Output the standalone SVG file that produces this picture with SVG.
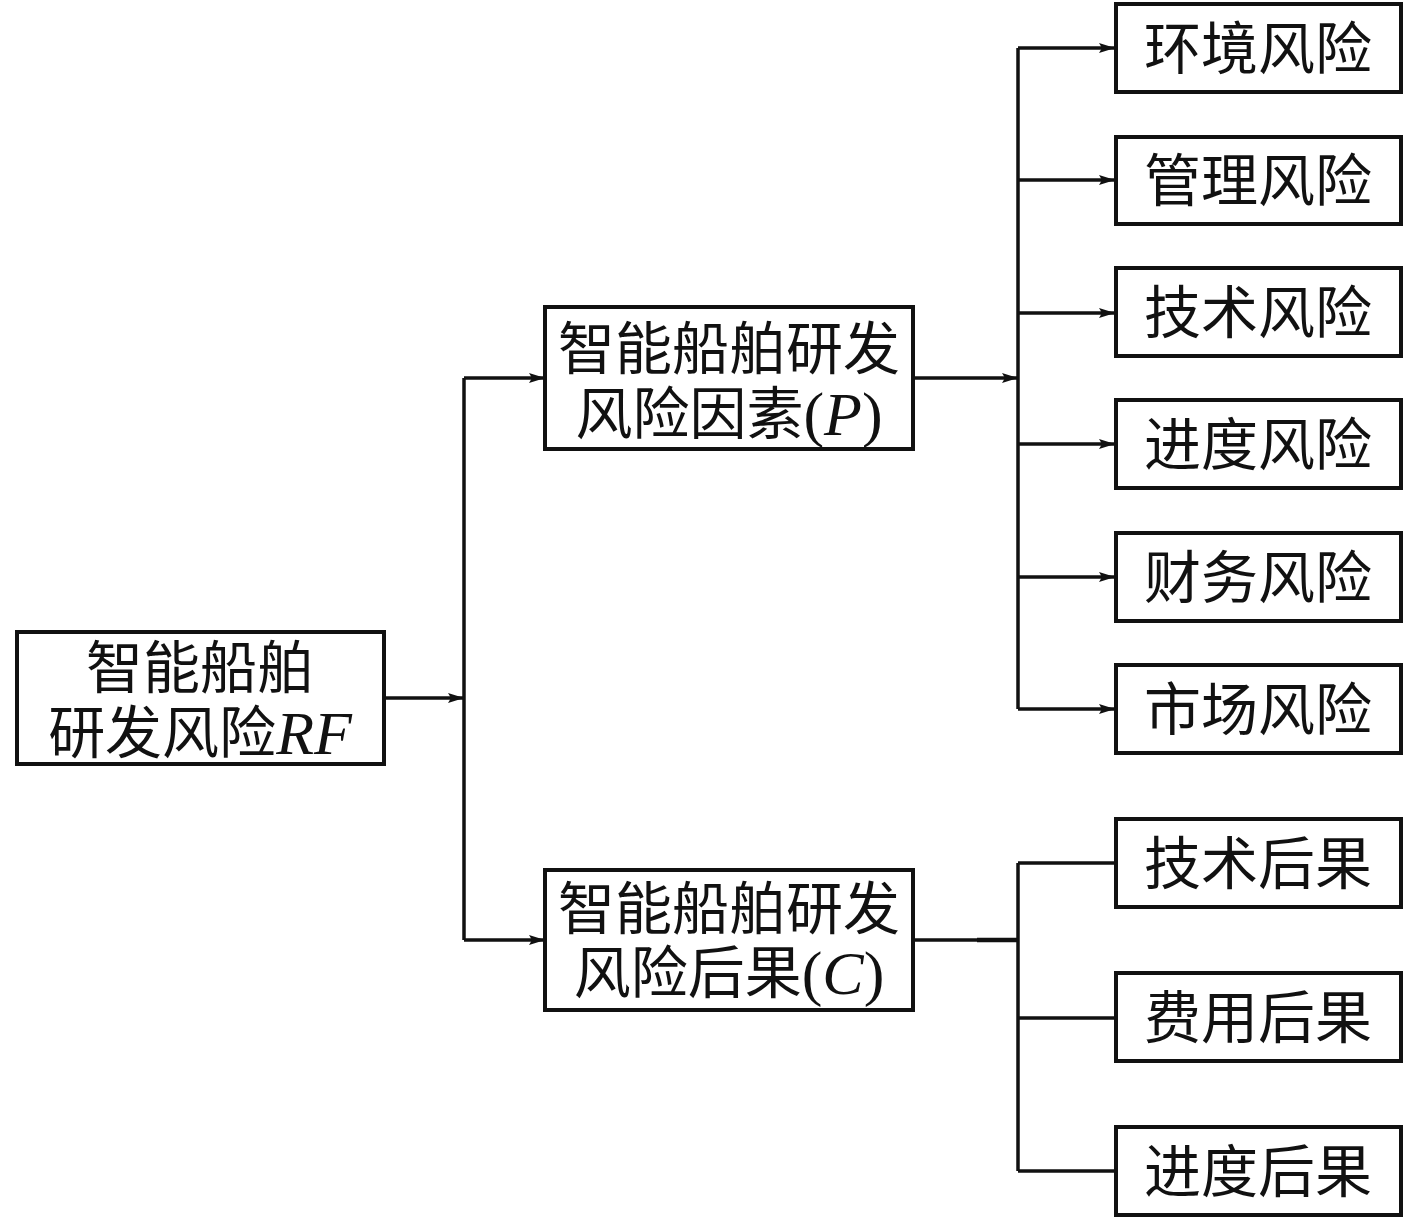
<svg xmlns="http://www.w3.org/2000/svg" width="1417" height="1219" viewBox="0 0 1417 1219">
<style>
.box{fill:#fff;stroke:#111;stroke-width:4}
.t{font-family:"Liberation Serif","Noto Sans CJK SC",serif;font-size:57px;fill:#111;text-anchor:middle;dominant-baseline:central}
.i{font-style:italic;font-size:62px}
.p{font-size:62px}
.c{fill:none;stroke:#111;stroke-width:3.5}
</style>
<defs>
<marker id="ah" markerUnits="userSpaceOnUse" markerWidth="18" markerHeight="12" refX="16" refY="5.5" orient="auto">
<path d="M0,0.5 L16,5.5 L0,10.5 L3,5.5 z" fill="#111"/>
</marker>
</defs>
<rect width="1417" height="1219" fill="#fff"/>
<g id="connectors">
<path class="c" d="M384,698 H464" marker-end="url(#ah)"/>
<path class="c" d="M464,378 V940"/>
<path class="c" d="M464,378 H545" marker-end="url(#ah)"/>
<path class="c" d="M464,940 H545" marker-end="url(#ah)"/>
<path class="c" d="M913,378 H1018" marker-end="url(#ah)"/>
<path class="c" d="M1018,48 V709"/>
<path class="c" d="M1018,48 H1115" marker-end="url(#ah)"/>
<path class="c" d="M1018,180 H1115" marker-end="url(#ah)"/>
<path class="c" d="M1018,313 H1115" marker-end="url(#ah)"/>
<path class="c" d="M1018,444 H1115" marker-end="url(#ah)"/>
<path class="c" d="M1018,577 H1115" marker-end="url(#ah)"/>
<path class="c" d="M1018,709 H1115" marker-end="url(#ah)"/>
<path class="c" d="M913,940 H1018"/>
<path class="c" style="stroke-width:4.5" d="M977,940 H1018"/>
<path class="c" d="M1018,863 V1171"/>
<path class="c" d="M1018,863 H1115"/>
<path class="c" d="M1018,1018 H1115"/>
<path class="c" d="M1018,1171 H1115"/>
</g>
<g id="root">
<rect class="box" x="17" y="632" width="367" height="132"/>
<text class="t" x="200" y="668">智能船舶</text>
<text class="t" x="200" y="733">研发风险<tspan class="i">RF</tspan></text>
</g>
<g id="factors">
<rect class="box" x="545" y="307" width="368" height="142"/>
<text class="t" x="729" y="349">智能船舶研发</text>
<text class="t" x="729" y="414">风险因素<tspan class="p">(</tspan><tspan class="i">P</tspan><tspan class="p">)</tspan></text>
</g>
<g id="consequences">
<rect class="box" x="545" y="870" width="368" height="140"/>
<text class="t" x="729" y="909">智能船舶研发</text>
<text class="t" x="729" y="973">风险后果<tspan class="p">(</tspan><tspan class="i">C</tspan><tspan class="p">)</tspan></text>
</g>
<g id="env">
<rect class="box" x="1116" y="4" width="285" height="88"/>
<text class="t" x="1258" y="49">环境风险</text>
</g>
<g id="mgmt">
<rect class="box" x="1116" y="137" width="285" height="87"/>
<text class="t" x="1258" y="181">管理风险</text>
</g>
<g id="tech">
<rect class="box" x="1116" y="268" width="285" height="88"/>
<text class="t" x="1258" y="313">技术风险</text>
</g>
<g id="schedule">
<rect class="box" x="1116" y="400" width="285" height="88"/>
<text class="t" x="1258" y="445">进度风险</text>
</g>
<g id="finance">
<rect class="box" x="1116" y="533" width="285" height="88"/>
<text class="t" x="1258" y="578">财务风险</text>
</g>
<g id="market">
<rect class="box" x="1116" y="665" width="285" height="88"/>
<text class="t" x="1258" y="710">市场风险</text>
</g>
<g id="techc">
<rect class="box" x="1116" y="819" width="285" height="88"/>
<text class="t" x="1258" y="864">技术后果</text>
</g>
<g id="costc">
<rect class="box" x="1116" y="973" width="285" height="88"/>
<text class="t" x="1258" y="1018">费用后果</text>
</g>
<g id="schedc">
<rect class="box" x="1116" y="1127" width="285" height="88"/>
<text class="t" x="1258" y="1172">进度后果</text>
</g>
</svg>
